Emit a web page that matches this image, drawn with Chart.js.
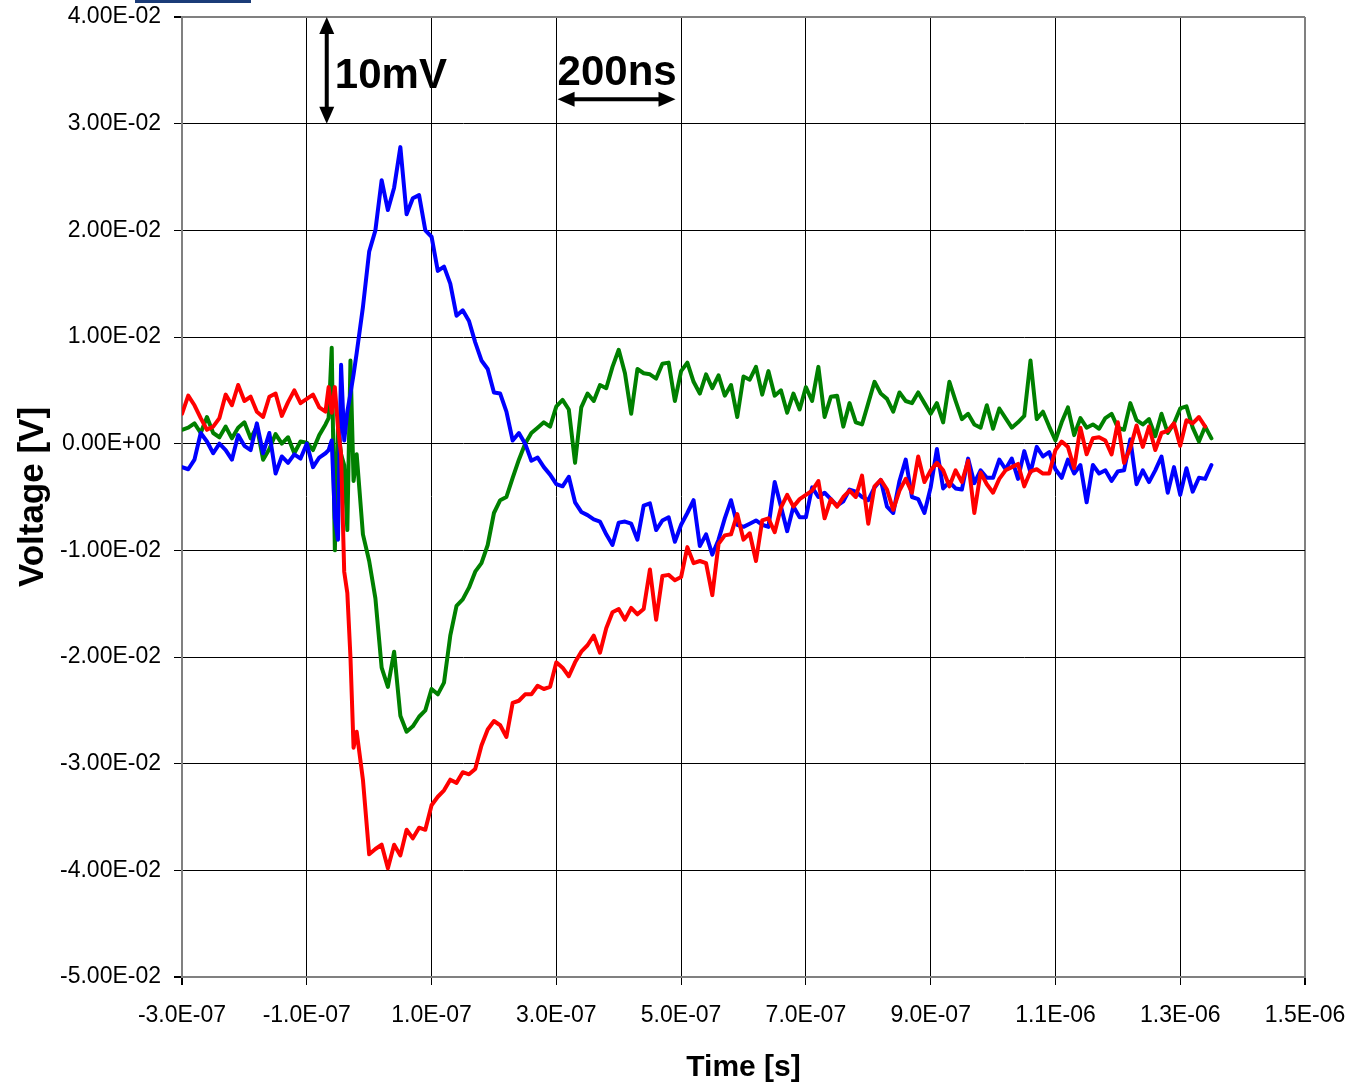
<!DOCTYPE html>
<html>
<head>
<meta charset="utf-8">
<title>Voltage vs Time</title>
<script src="https://cdn.jsdelivr.net/npm/chart.js@4.4.1/dist/chart.umd.min.js"></script>
<style>
  html, body { margin: 0; padding: 0; background: #fff; }
  #chart { display: block; }
</style>
</head>
<body>
<canvas id="chart" width="1349" height="1089"></canvas>
<script>
// ---------------- data (time in ns, voltage in mV) ----------------
const timeNs = [
  -300, -290, -280, -270, -260, -250, -240, -230, -220, -210, -200, -190,
  -180, -170, -160, -150, -140, -130, -120, -110, -100, -90, -80, -70,
  -65, -60, -55, -50, -45, -40, -35, -30, -25, -20,
  -10, 0, 10, 20, 30, 40, 50, 60, 70, 80, 90, 100, 110, 120, 130, 140,
  150, 160, 170, 180, 190, 200, 210, 220, 230, 240, 250, 260, 270, 280,
  290, 300, 310, 320, 330, 340, 350, 360, 370, 380, 390, 400, 410, 420,
  430, 440, 450, 460, 470, 480, 490, 500, 510, 520, 530, 540, 550, 560,
  570, 580, 590, 600, 610, 620, 630, 640, 650, 660, 670, 680, 690, 700,
  710, 720, 730, 740, 750, 760, 770, 780, 790, 800, 810, 820, 830, 840,
  850, 860, 870, 880, 890, 900, 910, 920, 930, 940, 950, 960, 970, 980,
  990, 1000, 1010, 1020, 1030, 1040, 1050, 1060, 1070, 1080, 1090, 1100,
  1110, 1120, 1130, 1140, 1150, 1160, 1170, 1180, 1190, 1200, 1210, 1220,
  1230, 1240, 1250, 1260, 1270, 1280, 1290, 1300, 1310, 1320, 1330, 1340, 1350
];

const blueMv = [
  -2.2, -2.4, -1.5, 1.0, 0.2, -0.9, 0.0, -0.6, -1.5, 0.8, -0.2, -0.6,
  1.9, -0.9, 1.0, -2.8, -1.2, -1.8, -1.0, -1.4, 0.0, -2.2, -1.3, -0.9,
  -0.6, 0.3, -7.0, -9.0, 7.4, 0.3, 3.0, 4.7, 6.5, 8.5,
  12.8, 18.0, 20.0, 24.7, 21.9, 24.0, 27.8, 21.5, 23.0, 23.3, 20.0, 19.4, 16.2, 16.6, 15.0, 12.0,
  12.5, 11.5, 9.5, 7.8, 7.0, 4.8, 4.7, 3.0, 0.3, 1.0, 0.0, -1.6, -1.3, -2.2,
  -2.9, -3.8, -4.0, -3.1, -5.5, -6.4, -6.7, -7.1, -7.3, -8.5, -9.5, -7.4, -7.3, -7.5,
  -9.0, -5.8, -5.6, -8.1, -7.2, -6.9, -9.2, -7.6, -6.5, -5.3, -9.6, -8.5, -10.4, -9.0,
  -7.0, -5.3, -7.6, -7.8, -7.5, -7.2, -7.6, -7.8, -3.6, -5.9, -8.2, -5.9, -6.9, -6.9,
  -4.1, -5.0, -4.6, -5.2, -5.8, -5.4, -4.3, -4.5, -5.0, -5.3, -4.1, -3.4, -5.9, -6.5,
  -3.5, -1.5, -5.0, -5.2, -6.5, -4.1, -0.5, -4.2, -3.6, -4.2, -4.3, -1.4, -3.7, -2.5,
  -3.2, -3.2, -1.5, -2.4, -1.4, -3.3, -0.7, -2.7, -0.3, -1.2, -0.8, -2.4,
  -3.2, -1.5, -2.8, -2.0, -5.5, -2.0, -2.8, -2.5, -3.5, -2.6, -2.5, 0.4,
  -3.8, -2.5, -3.6, -2.5, -1.2, -4.6, -2.2, -4.8, -2.3, -4.5, -3.2, -3.3, -2.0
];

const greenMv = [
  1.3, 1.5, 1.9, 1.0, 2.5, 1.0, 0.6, 1.6, 0.5, 1.5, 2.0, 0.5,
  1.6, -1.5, -0.5, 0.9, 0.0, 0.6, -0.9, 0.2, 0.1, -0.6, 0.8, 1.8,
  2.4, 9.0, -10.0, 1.5, -1.0, -2.0, -8.1, 7.8, -3.5, -1.0,
  -8.5, -11.0, -14.5, -21.0, -22.8, -19.5, -25.5, -27.0, -26.5, -25.6, -25.0, -23.0, -23.5, -22.4, -18.0, -15.2,
  -14.6, -13.5, -12.0, -11.2, -9.5, -6.5, -5.3, -5.0, -3.2, -1.5, 0.0, 1.0, 1.5, 2.0,
  1.6, 3.5, 4.1, 3.2, -1.8, 3.4, 4.7, 4.0, 5.5, 5.2, 7.2, 8.8, 6.6, 2.8,
  7.0, 6.6, 6.5, 6.1, 7.5, 7.6, 4.0, 6.8, 7.6, 5.8, 4.7, 6.5, 5.2, 6.4,
  4.5, 5.5, 2.5, 6.3, 6.0, 7.2, 4.6, 6.8, 4.5, 5.0, 2.9, 4.7, 3.2, 5.3,
  4.0, 7.2, 2.5, 4.4, 4.5, 1.6, 3.8, 2.0, 1.8, 3.8, 5.8, 4.7, 4.2, 3.0,
  4.8, 4.0, 3.8, 4.8, 3.8, 2.8, 3.8, 2.0, 5.8, 4.0, 2.3, 2.8, 1.8, 1.5,
  3.6, 1.4, 3.3, 2.4, 1.5, 2.0, 2.6, 7.8, 2.3, 3.0, 1.6, 0.3,
  2.0, 3.4, 0.8, 2.4, 1.5, 1.8, 1.4, 2.4, 2.8, 1.5, 1.3, 3.8,
  2.2, 1.8, 2.3, 0.7, 2.8, 1.0, 1.9, 3.3, 3.5, 1.5, 0.2, 1.6, 0.5
];

const redMv = [
  2.8, 4.5, 3.6, 2.4, 1.3, 1.6, 2.4, 4.6, 3.6, 5.5, 4.0, 4.4,
  3.0, 2.5, 4.4, 4.7, 2.6, 3.9, 5.0, 3.8, 4.2, 4.6, 3.4, 3.0,
  5.3, 2.9, 5.3, 1.5, -1.0, -12.0, -14.0, -20.0, -28.5, -27.0,
  -31.5, -38.5, -38.0, -37.6, -39.8, -37.6, -38.6, -36.2, -37.0, -36.0, -36.2, -33.9, -33.1, -32.5, -31.5, -31.8,
  -30.8, -31.0, -30.5, -28.3, -26.8, -26.0, -26.4, -27.5, -24.3, -24.1, -23.5, -23.5, -22.7, -23.0,
  -22.8, -20.5, -21.0, -21.8, -20.5, -19.5, -18.9, -18.0, -19.6, -17.3, -15.8, -15.5, -16.5, -15.4,
  -16.0, -15.5, -11.8, -16.5, -12.4, -12.3, -12.8, -12.5, -9.7, -11.2, -11.0, -11.2, -14.2, -9.4,
  -8.6, -8.5, -6.6, -9.0, -8.4, -11.0, -7.2, -7.0, -8.3, -6.0, -4.8, -5.9, -5.2, -4.8,
  -4.4, -3.5, -7.0, -5.2, -5.9, -5.0, -4.4, -5.0, -3.0, -7.5, -4.0, -3.4, -4.3, -6.2,
  -4.4, -3.3, -4.6, -1.2, -3.6, -2.5, -1.8, -2.5, -4.0, -2.5, -3.6, -1.6, -6.5, -2.7,
  -3.8, -4.6, -3.3, -2.5, -2.2, -1.9, -4.0, -2.6, -2.4, -2.8, -2.8, -0.6,
  0.2, -0.3, -2.3, 1.5, -1.0, 0.5, 0.6, 0.3, -1.0, 2.0, -1.8, -0.4,
  1.7, -0.3, 1.6, -0.6, 1.0, 1.2, 1.9, -0.2, 2.2, 1.9, 2.5, 1.6, null
];

// axis ranges
const xMinNs = -300, xMaxNs = 1500, xStepNs = 200;
const yMinMv = -50, yMaxMv = 40, yStepMv = 10;

// scale-bar annotations (drawn in data units)
const voltBar = { t: -68, from: 30, to: 40, label: "10mV", labelT: -55, labelV: 33.3 };
const timeBar = { v: 32.3, from: 302, to: 491, label: "200ns", labelT: 302, labelV: 33.6 };

const FONT = "'Liberation Sans', Arial, sans-serif";

// ---------------- helpers ----------------
function sciLabel(v, digits) {
  if (Math.abs(v) < 1e-30) return (0).toFixed(digits) + "E+00";
  const parts = v.toExponential(digits).split("e");
  const n = parseInt(parts[1], 10);
  return parts[0] + "E" + (n < 0 ? "-" : "+") + String(Math.abs(n)).padStart(2, "0");
}

function toPoints(values) {
  return timeNs.map((t, i) => ({ x: t, y: values[i] }));
}

function isEdge(ctx, min, max) {
  const v = ctx.tick ? ctx.tick.value : null;
  return v === min || v === max;
}

function drawHead(ctx, x, y, dx, dy) {
  // filled triangle pointing along (dx, dy)
  const len = 17, half = 7.5;
  const px = -dy, py = dx;
  ctx.beginPath();
  ctx.moveTo(x, y);
  ctx.lineTo(x - dx * len + px * half, y - dy * len + py * half);
  ctx.lineTo(x - dx * len - px * half, y - dy * len - py * half);
  ctx.closePath();
  ctx.fill();
}

// ---------------- annotation plugin ----------------
const scaleBars = {
  id: "scaleBars",
  afterDraw(chart) {
    const { ctx, scales: { x, y } } = chart;
    ctx.save();

    // cropped dark header strip at the very top
    ctx.fillStyle = "#1b3c78";
    ctx.fillRect(135, 0, 116, 3);

    ctx.strokeStyle = "#000";
    ctx.fillStyle = "#000";
    ctx.lineWidth = 4;

    // vertical 10mV bar
    const vx = x.getPixelForValue(voltBar.t);
    const vTop = y.getPixelForValue(voltBar.to);
    const vBot = y.getPixelForValue(voltBar.from);
    ctx.beginPath();
    ctx.moveTo(vx, vTop + 12);
    ctx.lineTo(vx, vBot - 12);
    ctx.stroke();
    drawHead(ctx, vx, vTop, 0, -1);
    drawHead(ctx, vx, vBot, 0, 1);

    // horizontal 200ns bar
    const hy = y.getPixelForValue(timeBar.v);
    const hL = x.getPixelForValue(timeBar.from);
    const hR = x.getPixelForValue(timeBar.to);
    ctx.beginPath();
    ctx.moveTo(hL + 12, hy);
    ctx.lineTo(hR - 12, hy);
    ctx.stroke();
    drawHead(ctx, hL, hy, -1, 0);
    drawHead(ctx, hR, hy, 1, 0);

    // labels
    ctx.font = "bold 42px " + FONT;
    ctx.textAlign = "left";
    ctx.textBaseline = "alphabetic";
    ctx.fillText(voltBar.label, x.getPixelForValue(voltBar.labelT), y.getPixelForValue(voltBar.labelV));
    ctx.fillText(timeBar.label, x.getPixelForValue(timeBar.labelT), y.getPixelForValue(timeBar.labelV));

    ctx.restore();
  }
};

// ---------------- chart ----------------
function initChart() {
  const canvas = document.getElementById("chart");

  const lineStyle = {
    borderWidth: 4,
    pointRadius: 0,
    tension: 0,
    fill: false,
    borderJoinStyle: "round",
    borderCapStyle: "round",
    spanGaps: false
  };

  new Chart(canvas.getContext("2d"), {
    type: "line",
    data: {
      datasets: [
        Object.assign({ label: "red", data: toPoints(redMv), borderColor: "#ff0000" }, lineStyle),
        Object.assign({ label: "blue", data: toPoints(blueMv), borderColor: "#0000ff" }, lineStyle),
        Object.assign({ label: "green", data: toPoints(greenMv), borderColor: "#008000" }, lineStyle)
      ]
    },
    options: {
      responsive: false,
      animation: false,
      layout: { padding: { top: 17, right: 44, bottom: 0, left: 0 } },
      plugins: {
        legend: { display: false },
        tooltip: { enabled: false }
      },
      scales: {
        x: {
          type: "linear",
          min: xMinNs,
          max: xMaxNs,
          ticks: {
            stepSize: xStepNs,
            autoSkip: false,
            maxRotation: 0,
            padding: 17,
            color: "#000",
            font: { family: FONT, size: 23 },
            callback: v => sciLabel(v * 1e-9, 1)
          },
          grid: {
            color: c => isEdge(c, xMinNs, xMaxNs) ? "#808080" : "#000000",
            lineWidth: c => isEdge(c, xMinNs, xMaxNs) ? 2 : 1,
            tickLength: 8,
            tickColor: "#000"
          },
          border: { color: "#808080", width: 2 },
          title: {
            display: true,
            text: "Time [s]",
            color: "#000",
            font: { family: FONT, size: 30, weight: "bold" },
            padding: { top: 0, bottom: 3 }
          },
          afterFit: s => {
            s.height = 112;
            s.paddingLeft = 0;
            s.paddingRight = 0;
          }
        },
        y: {
          type: "linear",
          min: yMinMv,
          max: yMaxMv,
          ticks: {
            stepSize: yStepMv,
            padding: 13,
            color: "#000",
            font: { family: FONT, size: 23 },
            callback: v => sciLabel(v * 1e-3, 2)
          },
          grid: {
            color: c => isEdge(c, yMinMv, yMaxMv) ? "#808080" : "#000000",
            lineWidth: c => isEdge(c, yMinMv, yMaxMv) ? 2 : 1,
            tickLength: 8,
            tickColor: "#000"
          },
          border: { color: "#808080", width: 2 },
          title: {
            display: true,
            text: "Voltage [V]",
            color: "#000",
            font: { family: FONT, size: 35, weight: "bold" },
            padding: { top: 12, bottom: 0 }
          },
          afterFit: s => {
            s.width = 182;
            s.paddingTop = 0;
            s.paddingBottom = 0;
          }
        }
      }
    },
    plugins: [scaleBars]
  });
}

document.addEventListener("DOMContentLoaded", initChart);
</script>
</body>
</html>
